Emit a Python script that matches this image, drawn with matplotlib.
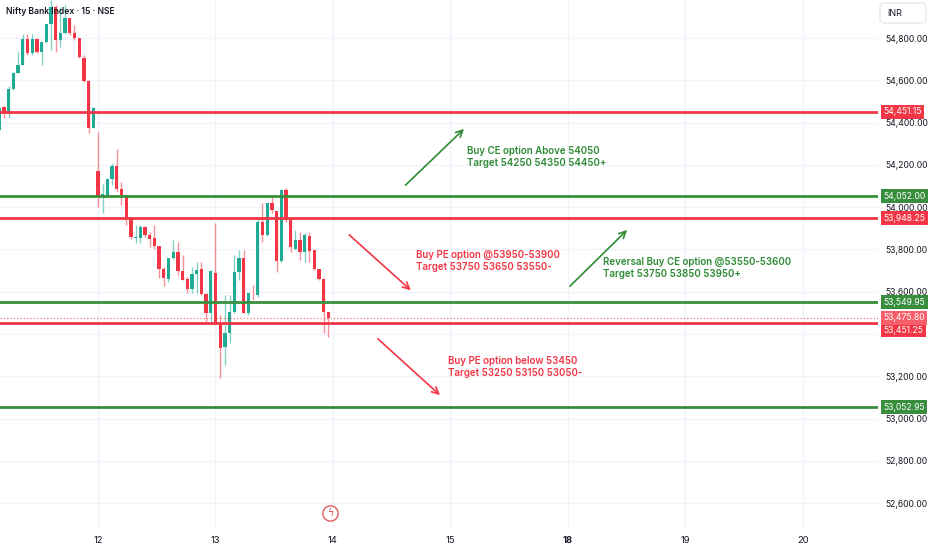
import numpy as np
import matplotlib.pyplot as plt
import matplotlib.transforms as mtransforms
from matplotlib.patches import FancyBboxPatch

plt.rcParams['font.family'] = ['Inter', 'DejaVu Sans']

# 15 min candles, Nifty Bank (11th tail, 12th, 13th)
opens = [54365, 54474, 54445, 54559, 54634, 54672, 54795, 54729, 54795, 54734, 54781,
         54866, 54947, 54791, 54824, 54895, 54824, 54800, 54705, 54597, 54374,
         54171, 54048, 54057, 54133, 54195, 54086, 54057, 53944, 53854, 53854, 53906,
         53868, 53854, 53816, 53707, 53660, 53759, 53788, 53698, 53660, 53613, 53684,
         53707, 53589, 53499,
         53688, 53452, 53338, 53405, 53504, 53693, 53759, 53499, 53584, 53584, 53930,
         53868, 54020, 53982, 53745, 54081, 53939, 53802, 53845, 53788, 53863, 53797,
         53707, 53660, 53504]
highs = [54478, 54478, 54573, 54639, 54734, 54819, 54819, 54819, 54800, 54786, 54866,
         54980, 54956, 54947, 54956, 54895, 54861, 54800, 54720, 54601, 54474,
         54355, 54109, 54138, 54209, 54275, 54119, 54057, 53944, 53915, 53915, 53911,
         53882, 53915, 53816, 53717, 53759, 53845, 53835, 53774, 53669, 53717, 53740,
         53740, 53594, 53703,
         53925, 53490, 53584, 53584, 53774, 53797, 53797, 53594, 53632, 53953, 54020,
         54020, 54057, 53982, 54086, 54090, 53939, 53892, 53882, 53878, 53882, 53797,
         53707, 53665, 53504]
lows = [54355, 54422, 54422, 54554, 54634, 54672, 54720, 54720, 54729, 54672, 54776,
        54743, 54734, 54757, 54819, 54814, 54791, 54705, 54592, 54351, 54374,
        54001, 53974, 54048, 54105, 54072, 54010, 53915, 53849, 53830, 53830, 53859,
        53811, 53802, 53665, 53627, 53646, 53755, 53679, 53655, 53594, 53594, 53594,
        53584, 53457, 53457,
        53452, 53192, 53253, 53357, 53499, 53655, 53499, 53490, 53561, 53575, 53835,
        53863, 53972, 53693, 53740, 53930, 53788, 53797, 53750, 53740, 53740, 53703,
        53655, 53405, 53386]
closes = [54469, 54445, 54559, 54634, 54672, 54795, 54729, 54795, 54734, 54781, 54866,
          54947, 54791, 54824, 54895, 54824, 54800, 54710, 54597, 54374, 54469,
          54048, 54062, 54133, 54195, 54086, 54057, 53944, 53859, 53859, 53906, 53868,
          53849, 53816, 53707, 53665, 53759, 53788, 53698, 53655, 53613, 53684, 53703,
          53589, 53499, 53698,
          53452, 53334, 53405, 53504, 53693, 53759, 53499, 53594, 53582, 53930, 53868,
          54020, 53986, 53745, 54081, 53939, 53811, 53845, 53788, 53868, 53792, 53707,
          53660, 53504, 53475.80]

last_price = 53475.80

# support / resistance levels
levels = [54451.15, 54052.00, 53948.25, 53549.95, 53451.25, 53052.95]
level_kind = ['red', 'green', 'red', 'green', 'red', 'green']

day_ticks = [21, 46, 71, 96, 121, 146, 171]
day_labels = ['12', '13', '14', '15', '18', '19', '20']

price_ticks = [52600, 52800, 53000, 53200, 53400, 53600, 53800, 54000, 54200, 54400, 54600, 54800]

UP = '#22ab94'
DOWN = '#f23645'
GREEN = '#388e3c'
RED = '#f23645'
TXT_GREEN = '#2e8b35'
TXT_RED = '#f23645'
TXT = '#131722'

# (text, x, y, colour) and arrows (x0, y0, x1, y1, colour)
notes = [
    ("Buy CE option Above 54050\nTarget 54250 54350 54450+", 99.6, 54235, TXT_GREEN),
    ("Buy PE option @53950-53900\nTarget 53750 53650 53550-", 88.6, 53747, TXT_RED),
    ("Reversal Buy CE option @53550-53600\nTarget 53750 53850 53950+", 128.5, 53712, TXT_GREEN),
    ("Buy PE option below 53450\nTarget 53250 53150 53050-", 95.5, 53244, TXT_RED),
]
arrows = [
    (86.0, 54095, 99.3, 54379, TXT_GREEN),
    (74.0, 53878, 88.0, 53598, TXT_RED),
    (121.0, 53617, 134.0, 53901, TXT_GREEN),
    (80.1, 53386, 94.2, 53102, TXT_RED),
]

fig = plt.figure(figsize=(9.32, 5.5), dpi=100)
ax = fig.add_axes([0, 22 / 550, 878 / 932, 528 / 550])
ax.set_xlim(0.15, 186.96)
ax.set_ylim(52482, 54980)

# grid
for t in day_ticks:
    ax.axvline(t, color='#f0f3fa', lw=1, zorder=0)
for p in price_ticks:
    ax.axhline(p, color='#f0f3fa', lw=1, zorder=0)

# candles
x = np.arange(len(opens))
o = np.array(opens)
c = np.array(closes)
cols = [UP if cc >= oo else DOWN for oo, cc in zip(o, c)]
ax.vlines(x, lows, highs, colors=cols, lw=1, alpha=0.55, zorder=2)
body = np.maximum(np.abs(c - o), 4)
ax.bar(x, body, bottom=np.minimum(o, c), width=0.7, color=cols, zorder=3)

# levels
for lv, k in zip(levels, level_kind):
    ax.axhline(lv, color=RED if k == 'red' else GREEN, lw=2, zorder=4)
ax.axhline(last_price, color=RED, lw=0.8, ls=(0, (1, 2)), alpha=0.8, zorder=4)

# notes and arrows
for txt, tx, ty, col in notes:
    ax.text(tx, ty, txt, color=col, fontsize=7.0, fontweight='semibold',
            va='center', ha='left', linespacing=1.25, zorder=6)
for x0, y0, x1, y1, col in arrows:
    ax.annotate('', xy=(x1, y1), xytext=(x0, y0),
                arrowprops=dict(arrowstyle='->', color=col, lw=1.2,
                                mutation_scale=12), zorder=6)

# axes styling
for s in ax.spines.values():
    s.set_visible(False)
ax.set_xticks(day_ticks)
ax.set_xticklabels(day_labels)
for lab in ax.get_xticklabels():
    if lab.get_text() == '18':
        lab.set_fontweight('bold')
ax.yaxis.tick_right()
ax.set_yticks(price_ticks)
ax.set_yticklabels(['' if p == 53400 else f'{p:,.2f}' for p in price_ticks])
ax.tick_params(axis='both', length=0, labelsize=6.2, colors=TXT)
ax.tick_params(axis='y', pad=5)
ax.tick_params(axis='x', pad=6, labelsize=6.8)

# price labels on the right scale
trans = mtransforms.blended_transform_factory(ax.transAxes, ax.transData)
tags = list(zip(levels, level_kind)) + [(last_price, 'last')]
for lv, k in tags:
    fc = {'red': RED, 'green': GREEN, 'last': '#f7606b'}[k]
    off = -5 if lv == 53451.25 else 0
    ax.annotate(f'{lv:,.2f}', xy=(1.0, lv), xycoords=trans,
                xytext=(3.8, off), textcoords='offset points',
                color='white', fontsize=6.2, va='center', ha='left',
                bbox=dict(boxstyle='square,pad=0.3', fc=fc, ec='none'),
                annotation_clip=False, zorder=7)

# title
fig.text(6 / 932, 1 - 12 / 550, 'Nifty Bank Index · 15 · NSE', fontsize=6.2,
         fontweight='semibold', color=TXT, va='center', ha='left')

# currency box
fig.patches.append(FancyBboxPatch((880 / 932, 1 - 23 / 550), 46 / 932, 20 / 550,
                                  boxstyle='round,pad=0,rounding_size=0.006',
                                  transform=fig.transFigure, fc='white',
                                  ec='#e0e3eb', lw=0.8))
fig.text(887 / 932, 1 - 13 / 550, 'INR', fontsize=6.5, color=TXT, va='center', ha='left')

# event marker
ev = mtransforms.blended_transform_factory(ax.transData, ax.transAxes)
ax.plot([70.4], [15 / 528], marker='o', ms=11, mfc='white', mec='#e05a5a',
        mew=1, transform=ev, clip_on=False, zorder=8)
ax.text(70.4, 15 / 528, 'ϟ', fontsize=7, color='#e05a5a', transform=ev,
        ha='center', va='center', family=['DejaVu Sans'], zorder=9)

fig.savefig('out.png', dpi=100, facecolor='white')
